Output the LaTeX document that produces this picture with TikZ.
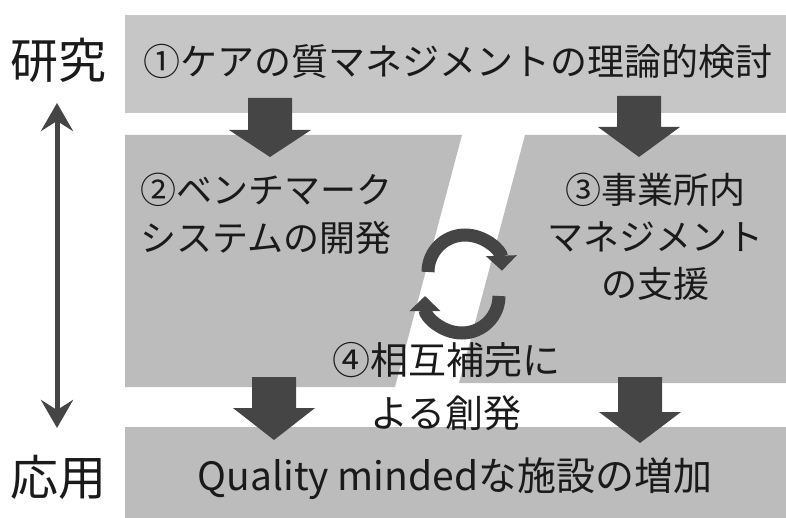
\documentclass[tikz,border=0pt]{standalone}
\usepackage{fontspec}
\setmainfont{Noto Sans CJK JP}
\usetikzlibrary{arrows.meta}
\definecolor{boxtop}{HTML}{C6C6C6}
\definecolor{boxgray}{HTML}{BCBCBC}
\definecolor{arrowgray}{HTML}{454545}
\definecolor{txt}{HTML}{1A1A1A}
\tikzset{
  panel/.style={fill=boxgray,draw=none},
  lbl/.style={text=txt,inner sep=0pt,font=\fontsize{#1}{#1}\selectfont},
  pics/blockarr/.style n args={2}{code={
    \fill[arrowgray] (-22,0) -- (22,0) -- (22,#1) -- (41,#1) -- (0,#2)
      -- (-41,#1) -- (-22,#1) -- cycle;}},
  cyc/.style={draw=arrowgray,line width=13pt,-{Triangle[length=15pt,width=30pt]}},
}
\begin{document}
\begin{tikzpicture}[x=1pt,y=-1pt]
\useasboundingbox (0,0) rectangle (786,518);
% panels
\fill[boxtop] (125,15) rectangle (786,113);
\fill[boxgray] (125,135) -- (462,135) -- (395,387) -- (125,387) -- cycle;
\fill[boxgray] (525,135) -- (786,135) -- (786,383) -- (459,383) -- cycle;
\fill[boxgray] (125,427) rectangle (786,518);
% block arrows
\pic at (270,98) {blockarr={32}{59}};
\pic at (639,96) {blockarr={31}{61}};
\pic at (274,377) {blockarr={31}{63}};
\pic at (640,377) {blockarr={35}{66}};
% cycle arrows
\draw[cyc] (428,272) arc[start angle=180,end angle=358,radius=37];
\draw[cyc] (499,296) arc[start angle=0,end angle=180,radius=37];
% research/application axis
\node[lbl=48] (res) at (58,60) {研究};
\node[lbl=48] (app) at (58,477) {応用};
\coordinate (axtop) at (57,103);
\coordinate (axbot) at (57,428);
\draw[arrowgray,line width=5pt,{Stealth[length=28pt,width=32pt,inset=10pt]}-{Stealth[length=28pt,width=32pt,inset=10pt]}] (axtop) -- (axbot);
% texts
\node[lbl=37,anchor=west] (t1) at (143,61) {①ケアの質マネジメントの理論的検討};
\node[lbl=36,anchor=west,align=left,font=\fontsize{36}{48}\selectfont] (t2) at (140,214) {②ベンチマーク\\システムの開発};
\node[lbl=36,align=center,font=\fontsize{36}{47}\selectfont] (t3) at (655,237) {③事業所内\\マネジメント\\の支援};
\node[lbl=38,align=center,font=\fontsize{38}{53}\selectfont] (t4) at (446,387) {④相互補完に\\よる創発};
\node[lbl=39] (t5) at (455,479) {Quality mindedな施設の増加};
\end{tikzpicture}
\end{document}
